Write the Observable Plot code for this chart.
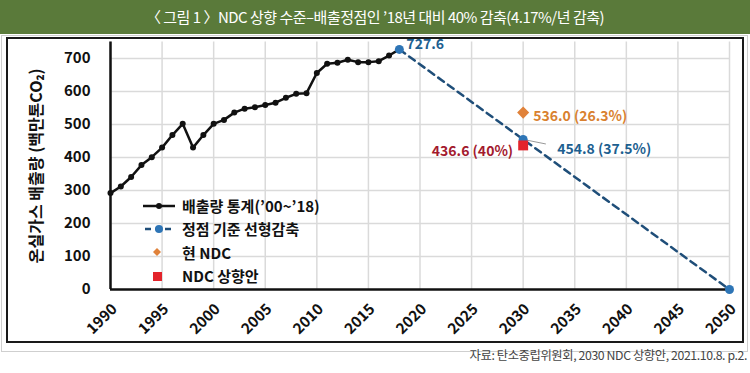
<!DOCTYPE html>
<html><head><meta charset="utf-8">
<script src="https://cdn.jsdelivr.net/npm/d3@7"></script>
<script src="https://cdn.jsdelivr.net/npm/@observablehq/plot@0.6"></script>
<style>
body{margin:0;background:#fff;}
#wrap{position:relative;width:750px;height:373px;overflow:hidden;font-family:"Noto Sans CJK KR","Noto Sans",sans-serif;}
#title{position:absolute;left:0;top:0;width:750px;height:34px;background:#5a7a3a;color:#fff;font-size:15px;line-height:34px;text-align:center;letter-spacing:-0.5px;z-index:3}
#outer{position:absolute;left:1px;top:35px;width:747px;height:317px;border:1px solid #cfcfcf;box-sizing:border-box}
#inner{position:absolute;left:6px;top:37px;width:738px;height:306px;border:2px solid #1a1a1a;box-sizing:border-box;}
#chart{position:absolute;left:0;top:0;z-index:2}
#legend{position:absolute;left:138px;top:194px;z-index:4;font-size:15px;font-weight:bold;color:#111;}
#legend .row{height:23.3px;display:flex;align-items:center;white-space:nowrap}
#legend svg{width:44px;height:16px;flex:none}
#caption{position:absolute;right:3px;top:346px;font-size:12.3px;color:#444;letter-spacing:-0.4px;z-index:3}
</style></head>
<body>
<div id="wrap">
  <div id="title"></div>
  <div id="outer"></div>
  <div id="inner"></div>
  <div id="chart"></div>
  <div id="legend"></div>
  <div id="caption"></div>
</div>
<script>
// ---- data ----
const titleText = "〈 그림 1 〉NDC 상향 수준–배출정점인 ’18년 대비 40% 감축(4.17%/년 감축)";
const captionText = "자료: 탄소중립위원회, 2030 NDC 상향안, 2021.10.8. p.2.";
const yLabel = "온실가스 배출량 (백만톤CO₂)";
const histYears = [1990,1991,1992,1993,1994,1995,1996,1997,1998,1999,2000,2001,2002,2003,2004,2005,2006,2007,2008,2009,2010,2011,2012,2013,2014,2015,2016,2017,2018];
const histValues = [292.2,312,341,377,401,430,468,502,430,468,502,514,536,548,552,559,566,581,593,595,656,684,687,696,689,689,692,709,727.6];
const projYears = [2018,2030,2050];
const projValues = [727.6,454.8,0];
const ndcYear = [2030];
const ndcCurrent = [536.0];
const ndcRaised = [436.6];
const xTicks = [1990,1995,2000,2005,2010,2015,2020,2025,2030,2035,2040,2045,2050];
const yTicks = [0,100,200,300,400,500,600,700];
const labelPeak = "727.6";
const labelCurrent = "536.0 (26.3%)";
const labelLinear = "454.8 (37.5%)";
const labelRaised = "436.6 (40%)";
const legendLabels = ["배출량 통계(’00~’18)","정점 기준 선형감축","현 NDC","NDC 상향안"];
// label anchor for the leader line (data units)
const leader = [{x1: 2030, y1: 454.8, x2: 2032.2, y2: 441}];

const C = {black:"#111", navy:"#1f4e79", blue:"#2e75b6", orange:"#e0823a", red:"#e3242b",
           tBlue:"#1d5f90", tOrange:"#d9812f", tRed:"#a31a2e", grid:"#dadada"};

document.getElementById("title").textContent = titleText;
document.getElementById("caption").textContent = captionText;

const hist = histYears.map((y,i)=>({year:y, value:histValues[i]}));
const proj = projYears.map((y,i)=>({year:y, value:projValues[i]}));

const font = "'Noto Sans CJK KR','Noto Sans',sans-serif";
const chart = Plot.plot({
  width: 750, height: 345,
  marginLeft: 110, marginRight: 21, marginTop: 41.5, marginBottom: 56,
  style: {background: "transparent", fontFamily: font, color: "#111"},
  x: {domain: [1990, 2050]},
  y: {domain: [0, 750]},
  marks: [
    Plot.gridX(xTicks, {stroke: C.grid, strokeOpacity: 1, strokeWidth: 1.5}),
    Plot.gridY(yTicks.filter(d=>d>0), {stroke: C.grid, strokeOpacity: 1, strokeWidth: 1.5}),
    Plot.ruleX([1990], {stroke: "#111", strokeWidth: 2.5}),
    Plot.ruleY([0], {stroke: "#111", strokeWidth: 2.5}),
    Plot.line(proj.filter(d=>d.year!==2030), {x: "year", y: "value", stroke: C.navy, strokeWidth: 2.5, strokeDasharray: "7,5"}),
    Plot.line(hist, {x: "year", y: "value", stroke: C.black, strokeWidth: 2.5}),
    Plot.dot(hist, {x: "year", y: "value", r: 3, fill: C.black}),
    Plot.link(leader, {x1: "x1", y1: "y1", x2: "x2", y2: "y2", stroke: "#999", strokeWidth: 1}),
    Plot.dot(proj, {x: "year", y: "value", r: 4.5, fill: C.blue}),
    Plot.dot(ndcYear, {x: d=>d, y: (d,i)=>ndcCurrent[i], symbol: "diamond2", r: 4.5, fill: C.orange, stroke: C.orange}),
    Plot.dot(ndcYear, {x: d=>d, y: (d,i)=>ndcRaised[i], symbol: "square", r: 5.6, fill: C.red}),
    Plot.text([labelPeak], {x: projYears[0], y: projValues[0], text: d=>d, textAnchor: "start", dx: 7, dy: -5, fill: C.tBlue, fontSize: 14, fontWeight: "bold"}),
    Plot.text([labelCurrent], {x: ndcYear[0], y: ndcCurrent[0], text: d=>d, textAnchor: "start", dx: 10, dy: 4, fill: C.tOrange, fontSize: 14, fontWeight: "bold"}),
    Plot.text([labelLinear], {x: ndcYear[0], y: projValues[1], text: d=>d, textAnchor: "start", dx: 34, dy: 10, fill: C.tBlue, fontSize: 14, fontWeight: "bold"}),
    Plot.text([labelRaised], {x: ndcYear[0], y: ndcRaised[0], text: d=>d, textAnchor: "end", dx: -10, dy: 6, fill: C.tRed, fontSize: 14, fontWeight: "bold"}),
    Plot.axisY(yTicks, {tickSize: 0, tickPadding: 20, label: null, fontSize: 15, fontWeight: "bold"}),
    Plot.axisX(xTicks, {tickSize: 0, tickPadding: 8, tickRotate: -45, dx: 4, dy: 9, label: null, tickFormat: d=>String(d), fontSize: 15, fontWeight: "bold"}),
    Plot.text([yLabel], {frameAnchor: "left", rotate: -90, dx: -74, textAnchor: "middle", text: d=>d, fontSize: 16, fontWeight: "bold", fill: "#111"})
  ]
});
document.getElementById("chart").appendChild(chart);

// legend
const sw = [
  `<line x1="5" y1="8" x2="37" y2="8" stroke="${C.black}" stroke-width="2.5"/><circle cx="21" cy="8" r="3" fill="${C.black}"/>`,
  `<line x1="7" y1="8" x2="37" y2="8" stroke="${C.navy}" stroke-width="2.5" stroke-dasharray="6,4"/><circle cx="21" cy="8" r="4" fill="${C.blue}"/>`,
  `<path d="M19,4 L23,8 L19,12 L15,8 Z" fill="${C.orange}"/>`,
  `<rect x="15" y="4" width="9" height="9" fill="${C.red}"/>`
];
const lg = document.getElementById("legend");
legendLabels.forEach((t,i)=>{
  const row = document.createElement("div");
  row.className = "row";
  row.innerHTML = `<svg viewBox="0 0 44 16">${sw[i]}</svg><span>${t}</span>`;
  lg.appendChild(row);
});
</script>
</body></html>
